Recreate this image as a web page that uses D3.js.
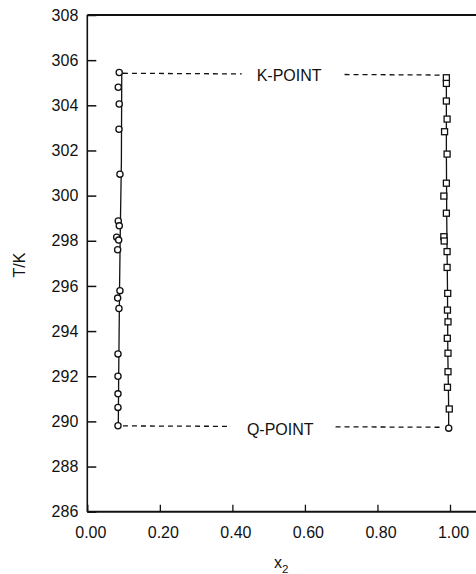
<!DOCTYPE html>
<html>
<head>
<meta charset="utf-8">
<script src="https://cdn.jsdelivr.net/npm/d3@7"></script>
<style>
  html, body { margin: 0; padding: 0; background: #fff; }
  svg { display: block; }
  text { font-family: "Liberation Sans", Arial, Helvetica, sans-serif; fill: #111; }
</style>
</head>
<body>
<svg id="chart" width="476" height="574"></svg>
<script>
// Lower-x phase branch (circles): temperature T/K and mole fraction x2
const leftT = [305.45, 304.80, 304.06, 302.94, 300.95, 298.88, 298.66, 298.16, 298.03, 297.60,
               295.79, 295.46, 295.00, 292.99, 292.00, 291.22, 290.62, 289.81];
const leftX = [0.088, 0.0854, 0.088, 0.0873, 0.090, 0.0854, 0.0882, 0.081, 0.0865, 0.0837,
               0.090, 0.0837, 0.0873, 0.0846, 0.0846, 0.0846, 0.0846, 0.0846];

// Upper-x phase branch (squares; the lowest point is a circle)
const rightT = [305.22, 304.97, 304.19, 303.39, 302.83, 301.84, 300.55, 299.98, 299.22, 298.18,
                297.99, 297.52, 296.82, 295.67, 294.93, 294.41, 293.68, 293.02, 292.20, 291.51,
                290.55, 289.70];
const rightX = [0.990, 0.990, 0.990, 0.992, 0.985, 0.992, 0.990, 0.983, 0.990, 0.983,
                0.984, 0.992, 0.992, 0.9937, 0.993, 0.9945, 0.9926, 0.9945, 0.9945, 0.993,
                0.998, 0.9964];

// Smoothed curves through each branch
const leftFitX = [0.0855, 0.0865, 0.089, 0.091, 0.094, 0.095];
const leftFitT = [289.81, 292.0, 296.0, 298.5, 301.5, 305.45];
const rightFitX = [0.9964, 0.996, 0.994, 0.993, 0.991, 0.990, 0.990];
const rightFitT = [289.70, 291.0, 293.0, 296.0, 299.0, 302.0, 305.0];

// Tie lines at the critical end points
const kPointX = [0.0983, 0.972];
const kPointT = [305.42, 305.34];
const qPointX = [0.0983, 0.980];
const qPointT = [289.80, 289.74];

const yTicks = [286, 288, 290, 292, 294, 296, 298, 300, 302, 304, 306, 308];
const xTicks = [0.0, 0.2, 0.4, 0.6, 0.8, 1.0];

const svg = d3.select("#chart");

const x = d3.scaleLinear().domain([0, 1]).range([87.3, 450]);
const y = d3.scaleLinear().domain([286, 308]).range([511.7, 15]);

// Frame: left and bottom axes plus top border running off the right edge
svg.append("line").attr("x1", x(0)).attr("x2", x(0)).attr("y1", y(308)).attr("y2", y(286))
  .attr("stroke", "#111").attr("stroke-width", 1.6);
svg.append("line").attr("x1", x(0)).attr("x2", x(1.12)).attr("y1", y(286)).attr("y2", y(286))
  .attr("stroke", "#111").attr("stroke-width", 2);
svg.append("line").attr("x1", x(0)).attr("x2", x(1.12)).attr("y1", y(308)).attr("y2", y(308))
  .attr("stroke", "#111").attr("stroke-width", 2);

// Y axis: inward ticks, labels on the left
const yAxis = d3.axisLeft(y).tickValues(yTicks).tickSizeInner(-9).tickSizeOuter(0)
  .tickPadding(9).tickFormat(d3.format("d"));
const gy = svg.append("g").attr("transform", `translate(${x(0)},0)`).call(yAxis);
gy.select(".domain").remove();
gy.selectAll(".tick line").attr("stroke", "#111").attr("stroke-width", 1.5);
gy.selectAll(".tick text").attr("font-size", 16).attr("fill", "#111")
  .attr("font-family", "Liberation Sans, Arial, sans-serif");

// X axis: inward ticks, labels below
const xAxis = d3.axisBottom(x).tickValues(xTicks).tickSizeInner(-7).tickSizeOuter(0)
  .tickPadding(15).tickFormat(d3.format(".2f"));
const gx = svg.append("g").attr("transform", `translate(0,${y(286)})`).call(xAxis);
gx.select(".domain").remove();
gx.selectAll(".tick line").attr("stroke", "#111").attr("stroke-width", 1.3);
gx.selectAll(".tick text").attr("font-size", 16).attr("fill", "#111").attr("dx", 3)
  .attr("font-family", "Liberation Sans, Arial, sans-serif");

// Axis titles
svg.append("text").attr("transform", "translate(25,265) rotate(-90)")
  .attr("text-anchor", "middle").attr("font-size", 16).text("T/K");
const xt = svg.append("text").attr("x", 274).attr("y", 568).attr("font-size", 16);
xt.append("tspan").text("x");
xt.append("tspan").attr("font-size", 11.5).attr("dy", 5).text("2");

// Fitted curves
const line = d3.line().x(d => x(d[0])).y(d => y(d[1]));
svg.append("path").datum(d3.zip(leftFitX, leftFitT)).attr("d", line)
  .attr("fill", "none").attr("stroke", "#111").attr("stroke-width", 1.3);
svg.append("path").datum(d3.zip(rightFitX, rightFitT)).attr("d", line)
  .attr("fill", "none").attr("stroke", "#111").attr("stroke-width", 1.3);

// Dashed tie lines with a centred label
function tieLine(xs, ts, label, labelX, baselineOffset, padL, padR) {
  const t = svg.append("text").attr("x", x(labelX))
    .attr("y", (y(ts[0]) + y(ts[1])) / 2 + baselineOffset)
    .attr("font-size", 16).text(label);
  const w = t.node().getComputedTextLength();
  const x0 = x(xs[0]), x1 = x(xs[1]);
  const yAt = px => y(ts[0]) + (y(ts[1]) - y(ts[0])) * (px - x0) / (x1 - x0);
  const segs = [[x0, x(labelX) - padL], [x(labelX) + w + padR, x1]];
  segs.forEach(([a, b]) => {
    svg.append("line").attr("x1", a).attr("x2", b).attr("y1", yAt(a)).attr("y2", yAt(b))
      .attr("stroke", "#111").attr("stroke-width", 1.3).attr("stroke-dasharray", "5,4");
  });
}
tieLine(kPointX, kPointT, "K-POINT", 0.467, 6.5, 15, 23);
tieLine(qPointX, qPointT, "Q-POINT", 0.440, 8.5, 17, 22);

// Markers
svg.append("g").selectAll("circle").data(d3.zip(leftX, leftT)).join("circle")
  .attr("cx", d => x(d[0])).attr("cy", d => y(d[1])).attr("r", 3.1)
  .attr("fill", "#fff").attr("stroke", "#111").attr("stroke-width", 1.3);

const rightPts = d3.zip(rightX, rightT);
const lowest = rightPts[rightPts.length - 1];
svg.append("g").selectAll("rect").data(rightPts.slice(0, -1)).join("rect")
  .attr("x", d => x(d[0]) - 3).attr("y", d => y(d[1]) - 3).attr("width", 6).attr("height", 6)
  .attr("fill", "#fff").attr("stroke", "#111").attr("stroke-width", 1.3);
svg.append("circle").attr("cx", x(lowest[0])).attr("cy", y(lowest[1])).attr("r", 3.1)
  .attr("fill", "#fff").attr("stroke", "#111").attr("stroke-width", 1.3);
</script>
</body>
</html>
